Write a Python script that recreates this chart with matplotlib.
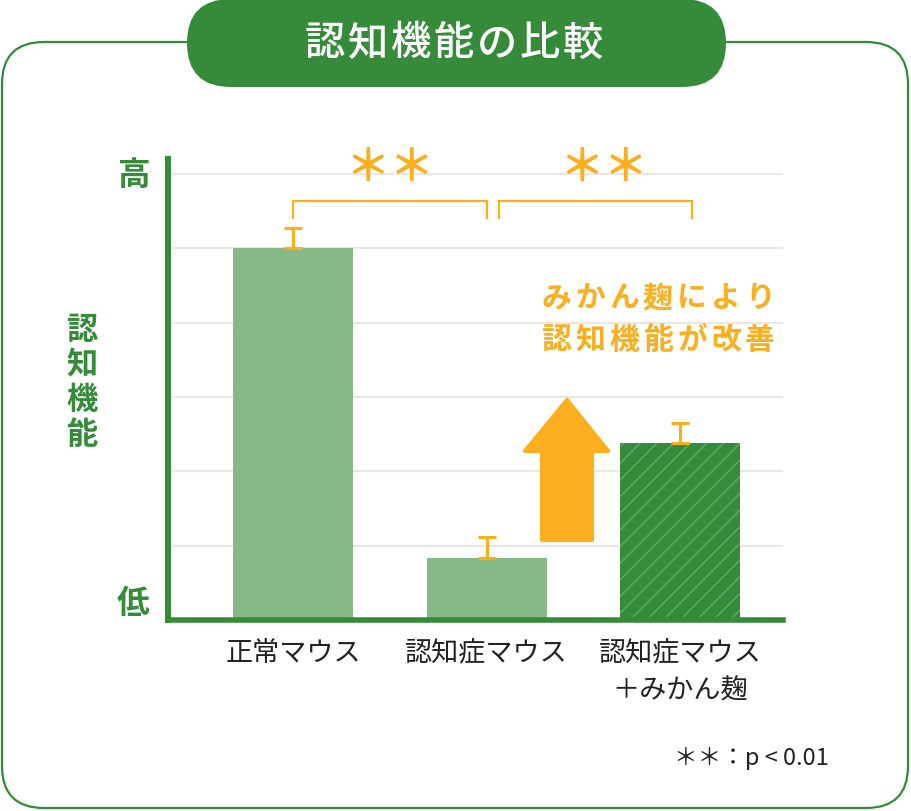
import matplotlib
matplotlib.use("Agg")
import matplotlib.pyplot as plt
from matplotlib.patches import FancyBboxPatch, Polygon
import numpy as np

plt.rcParams['font.family'] = ['Noto Sans CJK JP', 'DejaVu Sans']
plt.rcParams['hatch.linewidth'] = 1.1

# ---- data ----
categories = ["正常マウス", "認知症マウス", "認知症マウス\n＋みかん麹"]
values = [5.0, 0.84, 2.38]
errors = [0.27, 0.27, 0.27]
hatched = [False, False, True]
comparisons = [(0, 1, "＊＊"), (1, 2, "＊＊")]
title = "認知機能の比較"
ylabel = "認知機能"
y_high, y_low = "高", "低"
note_lines = ["みかん麹により", "認知機能が改善"]
footnote = "＊＊：p < 0.01"

GREEN = "#358B3A"
LIGHT = "#86B987"
HATCH = "#5FA863"
ORANGE = "#FBAE1E"
GRID = "#ECE7E3"

W, H = 912, 812
fig = plt.figure(figsize=(W / 100, H / 100), dpi=100)

# background axes in pixel coordinates
bg = fig.add_axes([0, 0, 1, 1], zorder=0)
bg.set_xlim(0, W)
bg.set_ylim(H, 0)
bg.axis("off")
bg.add_patch(FancyBboxPatch((2, 43), 906, 766,
                            boxstyle="round,pad=0,rounding_size=42",
                            facecolor="white", edgecolor=GREEN, lw=1.6))
bg.add_patch(FancyBboxPatch((187, 0), 539, 88,
                            boxstyle="round,pad=0,rounding_size=44",
                            facecolor=GREEN, edgecolor="none"))


def spaced(axx, s, cx, cy, pitch, **kw):
    n = len(s)
    x0 = cx - n * pitch / 2 + pitch / 2
    for i, ch in enumerate(s):
        axx.text(x0 + i * pitch, cy, ch, ha="center", va="center", **kw)


def vspaced(axx, s, cx, cy, pitch, **kw):
    n = len(s)
    y0 = cy - n * pitch / 2 + pitch / 2
    for i, ch in enumerate(s):
        axx.text(cx, y0 + i * pitch, ch, ha="center", va="center", **kw)


spaced(bg, title, 454, 44, 43, fontsize=29, fontweight="medium", color="white")

# main axes
px = lambda x: x / W
py = lambda y: 1 - y / H
ax = fig.add_axes([px(168), py(621), px(783) - px(168), py(160) - py(621)], zorder=1)
ax.set_facecolor("none")
xs = np.arange(len(categories))
ax.set_xlim(-0.646, 2.532)
ax.set_ylim(0, 6.2)

for s in ["top", "right"]:
    ax.spines[s].set_visible(False)
ax.spines["left"].set_color(GREEN)
ax.spines["left"].set_linewidth(4.3)
ax.spines["bottom"].set_color(GREEN)
ax.spines["bottom"].set_linewidth(4.0)
ax.spines["left"].set_capstyle("projecting")
ax.spines["bottom"].set_capstyle("projecting")

ax.set_yticks(np.arange(1, 7))
ax.set_yticklabels([])
ax.tick_params(axis="y", length=0)
ax.grid(axis="y", color=GRID, lw=1.6, zorder=0)
ax.set_axisbelow(True)

for x, v, h in zip(xs, values, hatched):
    if h:
        ax.bar(x, v, width=0.62, color=GREEN, edgecolor=HATCH, lw=0,
               hatch="//", zorder=2)
    else:
        ax.bar(x, v, width=0.62, color=LIGHT, lw=0, zorder=2)

ax.errorbar(xs, values, yerr=[np.zeros(len(values)), errors], fmt="none",
            ecolor=ORANGE, elinewidth=2.2, capsize=6.5, capthick=2.2, zorder=3)

ax.set_xticks(xs)
ax.set_xticklabels(categories, fontsize=19.5, color="#222222", linespacing=1.5)
ax.tick_params(axis="x", length=0, pad=14)

# significance brackets
top_y = max(v + e for v, e in zip(values, errors))
yb = top_y + 0.37
for i, (a, b, lab) in enumerate(comparisons):
    off = 0.0 if i == 0 else 0.062
    xa, xb = xs[a] + off, xs[b] + off
    ax.plot([xa, xa, xb, xb], [yb - 0.23, yb, yb, yb - 0.23], color=ORANGE,
            lw=1.6, clip_on=False, zorder=3, solid_joinstyle="miter")
    ax.text((xs[a] + xs[b]) / 2 + off * 1.75, yb + 0.45, lab, ha="center",
            va="center", fontsize=32, fontweight="bold", color=ORANGE,
            clip_on=False)

# overlay in pixel coords
ov = fig.add_axes([0, 0, 1, 1], zorder=2)
ov.set_xlim(0, W)
ov.set_ylim(H, 0)
ov.axis("off")
ov.set_facecolor("none")
arrow = Polygon([(542, 541), (592, 541), (592, 452), (608, 452), (567, 401),
                 (525, 452), (542, 452)], closed=True, facecolor=ORANGE,
                edgecolor=ORANGE, lw=3, joinstyle="round")
ov.add_patch(arrow)

for k, line in enumerate(note_lines):
    pitch = 34
    n = len(line)
    cx = 777 - n * pitch / 2
    spaced(ov, line, cx, 298 + 42 * k, pitch, fontsize=21.5, fontweight="bold",
           color=ORANGE)

vspaced(ov, ylabel, 82, 383, 35, fontsize=22.5, fontweight="bold", color=GREEN)
ov.text(133, 175, y_high, ha="center", va="center", fontsize=23.5,
        fontweight="bold", color=GREEN)
ov.text(133, 604, y_low, ha="center", va="center", fontsize=23.5,
        fontweight="bold", color=GREEN)
ov.text(829, 758, footnote, ha="right", va="center", fontsize=17, color="#222222")

fig.savefig("out.png", dpi=100, facecolor="white")
